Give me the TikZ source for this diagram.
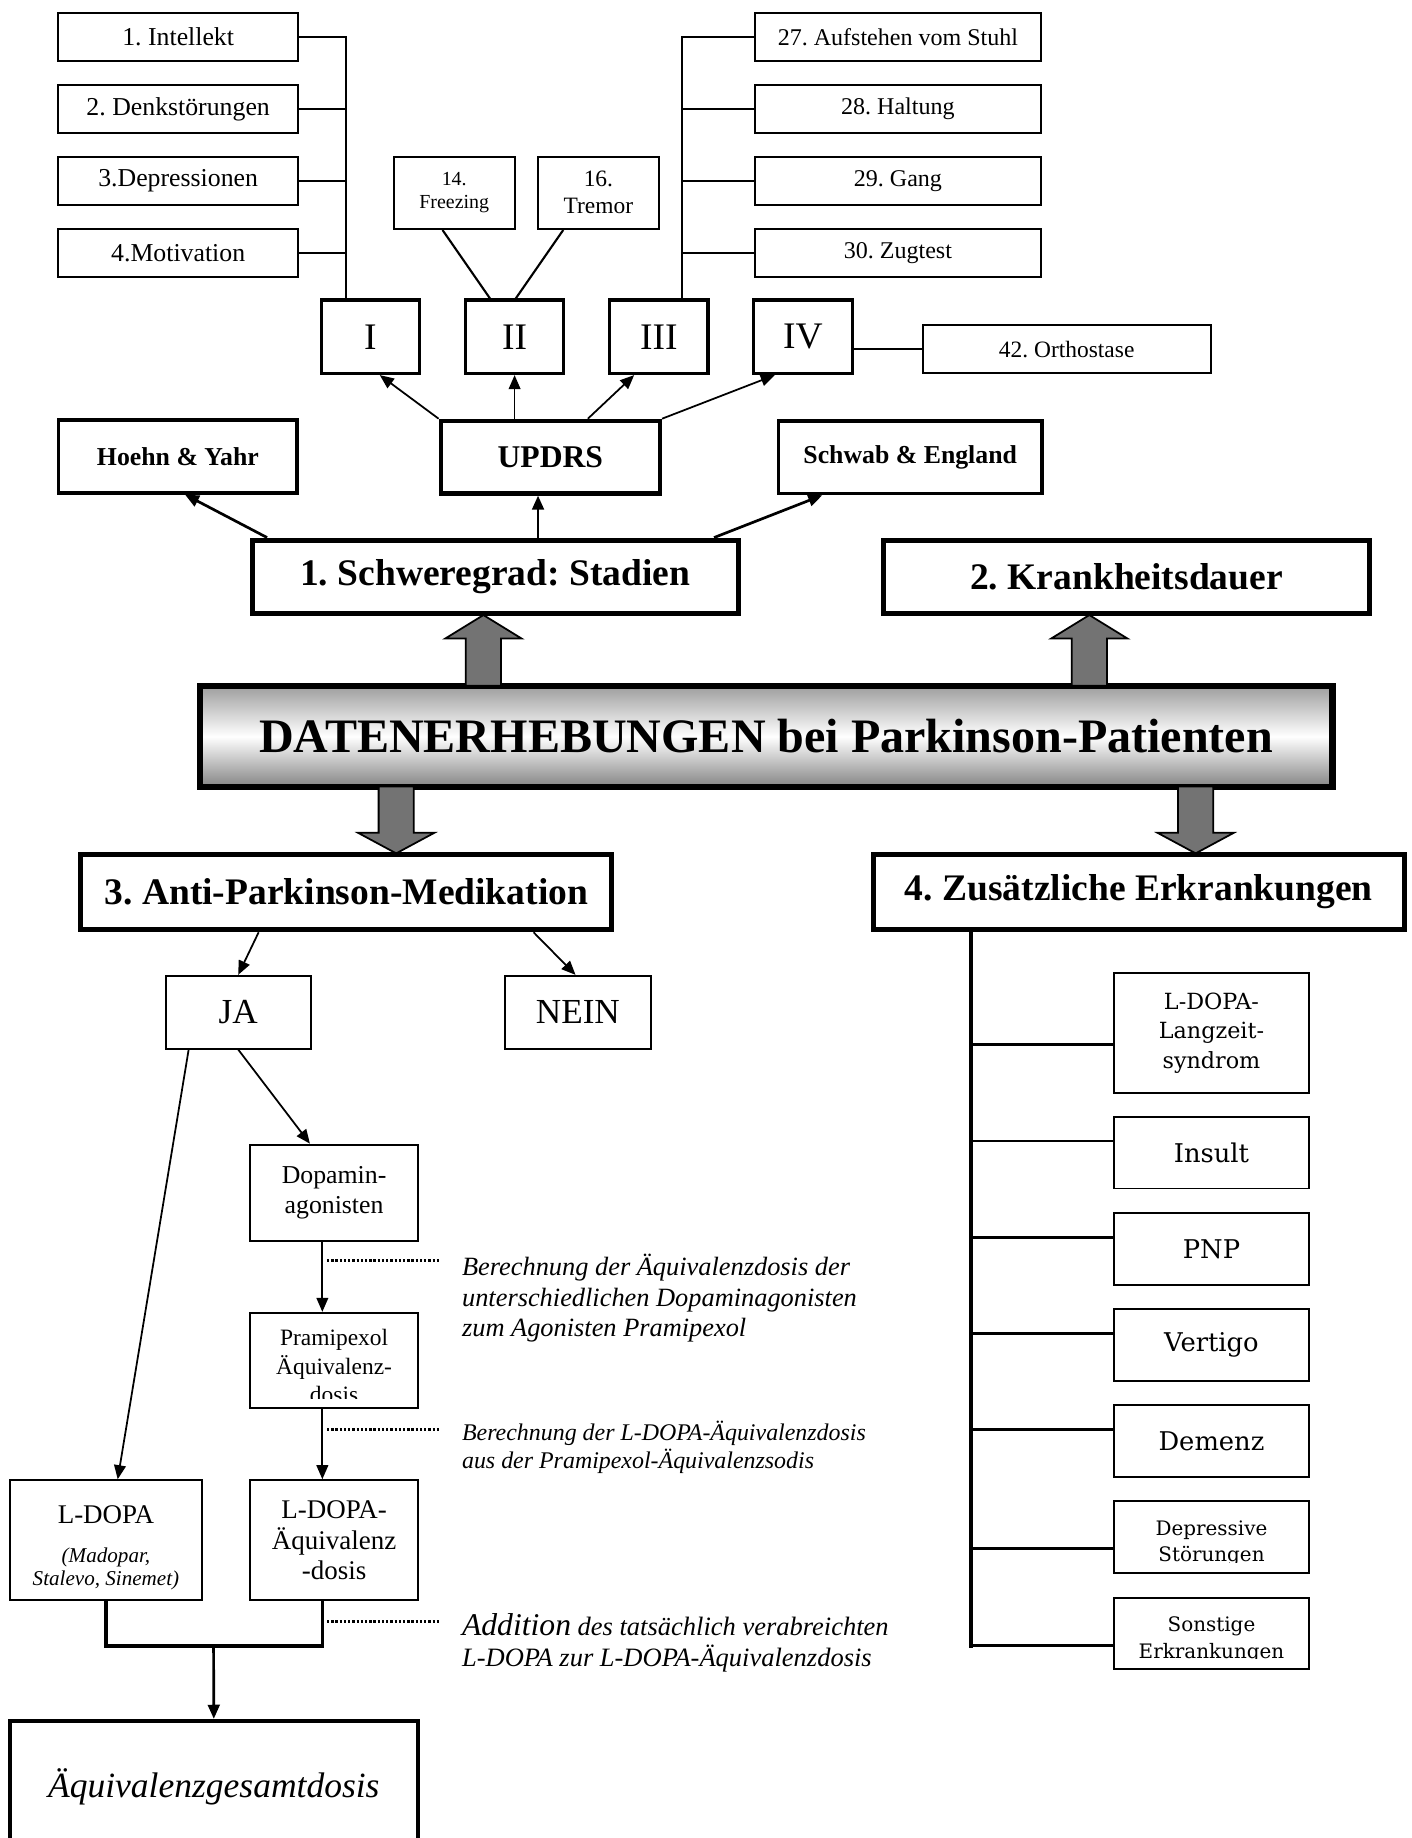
\documentclass[tikz,border=0pt]{standalone}
\usepackage{fontspec}
\setmainfont{Liberation Serif}
\newfontfamily\widefont{DejaVu Serif}
\usetikzlibrary{arrows.meta,positioning}
\frenchspacing
\newcommand{\fsz}[2]{\fontsize{#1}{#2}\selectfont}
\newcommand{\fatarrow}[4]{% x, base, head, tip
  \filldraw[fat] (#1-15,#2) -- (#1-15,#3) -- (#1-32.5,#3) -- (#1,#4)
    -- (#1+32.5,#3) -- (#1+15,#3) -- (#1+15,#2) -- cycle;}

\begin{document}
\begin{tikzpicture}[x=1pt,y=-1pt,on grid,node distance=61.3pt,
    inner sep=0pt,align=center,
    box/.style={draw,line width=1.7pt},
    lbox/.style={box,minimum width=205pt,minimum height=40.6pt,font=\fsz{22}{26}},
    rbox/.style={box,minimum width=244pt,minimum height=40.6pt,font=\fsz{20.5}{24}},
    stage/.style={draw,line width=2.8pt,minimum width=84pt,minimum height=62.6pt,font=\fsz{32}{36}},
    scalebox/.style={draw,line width=3pt,minimum height=62pt,font=\bfseries\fsz{22}{26}},
    topic/.style={draw,line width=4.3pt,minimum width=415pt,minimum height=62.5pt,font=\bfseries\fsz{32}{36}},
    medbox/.style={box,minimum width=143pt},
    dis/.style={box,minimum width=166pt,minimum height=61pt,font=\widefont\fsz{22}{26}},
    conn/.style={line width=1.8pt},
    arr/.style={line width=1.5pt,-{Triangle[length=12pt,width=10pt]}},
    dotline/.style={line width=2.4pt,dash pattern=on 2pt off 1.6pt},
    note/.style={anchor=north west,align=left,font=\itshape\fsz{22.5}{25.7}},
    fat/.style={line width=1.5pt,fill=black!55}]
\useasboundingbox (0,0) rectangle (1204,1568);
\clip (0,0) rectangle (1204,1568);

% UPDRS items
\node[lbox] (it1) at (152,31.7) {1. Intellekt};
\node[lbox,below of=it1] (it2) {2. Denkstörungen};
\node[lbox,below of=it2] (it3) {3.Depressionen};
\node[lbox,below of=it3] (it4) {4.Motivation};
\node[rbox] (it27) at (766,31.7) {27. Aufstehen vom Stuhl};
\node[rbox,below of=it27] (it28) {28. Haltung};
\node[rbox,below of=it28] (it29) {29. Gang};
\node[rbox,below of=it29] (it30) {30. Zugtest};
\node[box,minimum width=103pt,minimum height=61.7pt,font=\fsz{17}{20}] (it14) at (387.5,164.5) {14.\\Freezing};
\node[box,minimum width=103pt,minimum height=61.7pt,font=\fsz{20}{23},right of=it14,node distance=123pt] (it16) {16.\\Tremor};

% UPDRS parts
\node[stage] (s1) at (316,287.3) {I};
\node[stage,right of=s1,node distance=123pt] (s2) {II};
\node[stage,right of=s2,node distance=123pt] (s3) {III};
\node[stage,right of=s3,node distance=123pt] (s4) {IV};
\node[rbox,minimum width=246pt,minimum height=41.6pt,font=\fsz{20}{24}] (it42) at (910,297.8) {42. Orthostase};

\coordinate (t1) at ([xshift=-21pt]s1.north);
\coordinate (t3) at ([xshift=20pt]s3.north);
\draw[conn] (it1.east) -| (t1);
\foreach \n in {2,3,4} \draw[conn] (it\n.east) -- (it\n.east -| t1);
\draw[conn] (it27.west) -| (t3);
\foreach \n in {28,29,30} \draw[conn] (it\n.west) -- (it\n.west -| t3);
\draw[conn] ([xshift=-10pt]it14.south) -- ([xshift=-21pt]s2.north);
\draw[conn] ([xshift=-30pt]it16.south) -- ([xshift=1pt]s2.north);
\draw[conn] (s4.east |- it42.west) -- (it42.west);

% scales
\node[scalebox,minimum width=203.5pt] (hy) at (151.8,389.4) {Hoehn \& Yahr};
\node[scalebox,minimum width=187pt,line width=3.6pt,font=\bfseries\fsz{27}{30}] (updrs) at (469.5,390) {UPDRS};
\node[scalebox,minimum width=225pt] (se) at (776.5,390) {Schwab \& England};
\draw[arr] (updrs.north west) -- ([xshift=8pt]s1.south);
\draw[arr] (updrs.north -| s2.south) -- (s2.south);
\draw[arr] ([xshift=32pt]updrs.north) -- ([xshift=-21pt]s3.south);
\draw[arr] (updrs.north east) -- ([xshift=-24pt]s4.south);

% main topics
\node[topic] (sch) at (422.5,492) {1. Schweregrad: Stadien};
\node[topic] (kd) at (961,492) {2. Krankheitsdauer};
\draw[arr,line width=2.3pt] ([xshift=15pt]sch.north west) -- ([xshift=6pt]hy.south);
\draw[arr,line width=2.3pt] ([xshift=36.5pt]sch.north) -- ([xshift=-10.5pt]updrs.south);
\draw[arr,line width=2.3pt] ([xshift=-23pt]sch.north east) -- ([xshift=39pt]se.south west);

\node[draw,line width=5.7pt,minimum width=966pt,minimum height=86pt,
  top color=black!38,bottom color=black!48,middle color=white,
  font=\bfseries\fsz{41}{44}] (dat) at (653.6,628.3) {DATENERHEBUNGEN bei Parkinson-Patienten};
\fatarrow{412.4}{585}{544.7}{524.7}
\fatarrow{929.3}{585}{544.7}{524.7}
\fatarrow{338}{671}{710.5}{728}
\fatarrow{1020}{671}{710.5}{728}

\node[topic,minimum width=453pt,minimum height=64.3pt] (med) at (295.5,761) {3. Anti-Parkinson-Medikation};
\node[topic,minimum width=453pt,minimum height=64.3pt] (zus) at (971.5,761) {4. Zusätzliche Erkrankungen};

% medication
\node[box,minimum width=124pt,minimum height=62pt,font=\fsz{30}{34}] (ja) at (203.2,863.5) {JA};
\node[box,minimum width=124pt,minimum height=62pt,font=\fsz{30}{34}] (nein) at (493,863.5) {NEIN};
\node[medbox,minimum height=82pt,font=\fsz{22}{25.6}] (dop) at (285,1017.5) {Dopamin-\\agonisten};
\node[medbox,minimum height=80.8pt] (pram) at (285,1160.4) {};
\begin{scope}
  \clip (pram.north west) rectangle ([yshift=8.5pt]pram.south east);
  \node[anchor=north,font=\fsz{20}{24}] (pramtext) at ([yshift=-15pt]pram.north) {Pramipexol\\Äquivalenz-\\dosis};
\end{scope}
\node[medbox,minimum height=102.4pt,font=\fsz{23}{26.3}] (ldaeq) at (285,1314) {L-DOPA-\\Äquivalenz\\-dosis};
\node[box,minimum width=164pt,minimum height=102.4pt,font=\itshape\fsz{18}{20}] (ldopa) at (90.4,1314)
  {{\upshape\fsz{23}{26}\rule{0pt}{28pt}L-DOPA}\\[13pt](Madopar,\\Stalevo, Sinemet)};
\node[box,line width=3.4pt,minimum width=348pt,minimum height=113pt,font=\itshape\fsz{30.3}{34}] (ges) at (182.4,1524.5) {Äquivalenzgesamtdosis};

\draw[arr] ([xshift=153.8pt]med.south west) -- (ja.north);
\draw[arr] ([xshift=-69pt]med.south east) -- ([xshift=-2pt]nein.north);
\draw[arr] ([xshift=20.6pt]ja.south west) -- ([xshift=10pt]ldopa.north);
\draw[arr] (ja.south) -- ([xshift=-20.6pt]dop.north);
\draw[arr] ([xshift=-10pt]dop.south) -- ([xshift=-10pt]pram.north);
\draw[arr] ([xshift=-10pt]pram.south) -- ([xshift=-10pt]ldaeq.north);
\coordinate (sum) at (182.2,1404.4);
\draw[line width=3pt] (ldopa.south) |- (sum) -| ([xshift=-10pt]ldaeq.south);
\draw[arr,line width=2.3pt] (sum) -- (ges.north);

% remarks
\node[note] (n1) at (394,1070) {Berechnung der Äquivalenzdosis der\\unterschiedlichen Dopaminagonisten\\zum Agonisten Pramipexol};
\node[note,font=\itshape\fsz{20.4}{24}] (n2) at (394,1212) {Berechnung der L-DOPA-Äquivalenzdosis\\aus der Pramipexol-Äquivalenzsodis};
\node[note,font=\itshape\fsz{22.6}{27}] (n3) at (394,1376) {{\fsz{27}{27}Addition} des tatsächlich verabreichten\\L-DOPA zur L-DOPA-Äquivalenzdosis};
\coordinate (d1) at (279,1075.6);
\coordinate (d2) at (279,1219.6);
\coordinate (d3) at (279,1383.3);
\foreach \d in {d1,d2,d3} \draw[dotline] (\d) -- ++(95.6,0);

% other diseases
\node[dis,minimum height=102.3pt,font=\widefont\fsz{19}{25}] (dis1) at (1033.5,881.3) {L-DOPA-\\Langzeit-\\syndrom};
\node[dis] (dis2) at (1033.5,983.4) {Insult};
\node[dis,below of=dis2,node distance=82pt] (dis3) {PNP};
\node[dis,below of=dis3,node distance=82pt] (dis4) {Vertigo};
\node[dis,below of=dis4,node distance=82pt] (dis5) {Demenz};
\node[dis,below of=dis5,node distance=82pt] (dis6) {};
\node[dis,below of=dis6,node distance=82pt] (dis7) {};
\begin{scope}
  \clip (dis6.north west) rectangle ([yshift=10pt]dis6.south east);
  \node[anchor=north,font=\widefont\fsz{17}{22}] (dis6text) at ([yshift=-17pt]dis6.north) {Depressive\\Störungen};
\end{scope}
\begin{scope}
  \clip (dis7.north west) rectangle ([yshift=10pt]dis7.south east);
  \node[anchor=north,font=\widefont\fsz{17}{23}] (dis7text) at ([yshift=-17pt]dis7.north) {Sonstige\\Erkrankungen};
\end{scope}
\coordinate (zt) at ([xshift=-143.1pt]zus.south);
\draw[line width=3pt] (zt) -- ++(0,610.5);
\foreach \n/\d in {1/-9.7,2/10,3/10,4/10,5/10,6/-10,7/-10}
  \draw[line width=2.5pt] ([yshift=\d pt]dis\n.west) -- ++(-122.1,0);
\end{tikzpicture}
\end{document}
